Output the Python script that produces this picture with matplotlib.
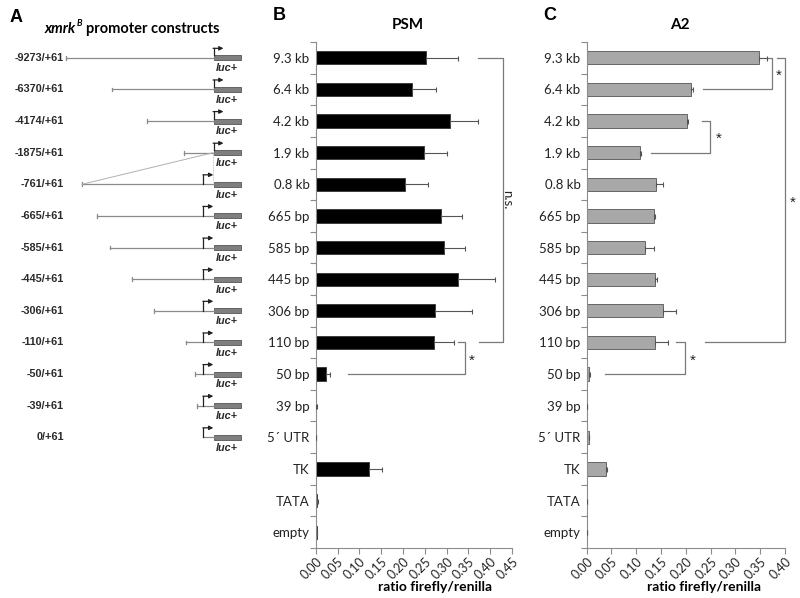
import matplotlib
matplotlib.use('Agg')
import matplotlib.pyplot as plt
import numpy as np

# ---- data -------------------------------------------------------------
construct_labels = ['-9273/+61', '-6370/+61', '-4174/+61', '-1875/+61', '-761/+61',
                    '-665/+61', '-585/+61', '-445/+61', '-306/+61', '-110/+61',
                    '-50/+61', '-39/+61', '0/+61']
construct_starts = [9273, 6370, 4174, 1875, 761, 665, 585, 445, 306, 110, 50, 39, 0]

categories = ['9.3 kb', '6.4 kb', '4.2 kb', '1.9 kb', '0.8 kb', '665 bp', '585 bp',
              '445 bp', '306 bp', '110 bp', '50 bp', '39 bp', '5\u00b4 UTR', 'TK',
              'TATA', 'empty']

psm_values = [0.253, 0.220, 0.307, 0.248, 0.204, 0.287, 0.294, 0.326, 0.274, 0.271,
              0.024, 0.001, 0.001, 0.122, 0.004, 0.002]
psm_errors = [0.074, 0.056, 0.065, 0.054, 0.053, 0.048, 0.049, 0.084, 0.085, 0.047,
              0.009, 0.001, 0.0, 0.031, 0.001, 0.0]

a2_values = [0.347, 0.211, 0.202, 0.107, 0.140, 0.136, 0.118, 0.138, 0.153, 0.138,
             0.005, 0.001, 0.004, 0.039, 0.001, 0.0]
a2_errors = [0.016, 0.003, 0.002, 0.003, 0.014, 0.002, 0.017, 0.003, 0.028, 0.027,
             0.001, 0.0, 0.001, 0.002, 0.0, 0.0]

psm_ticks = np.arange(0, 0.451, 0.05)
a2_ticks = np.arange(0, 0.401, 0.05)

# ---- style -------------------------------------------------------------
W, H = 800, 598
TOP_PX = 42; BOTTOM_PX = 548
LINE_GRAY = '#8a8a8a'
SPINE_GRAY = '#8c8c8c'
BRACKET_GRAY = '#7a7a7a'
FONT = 'Lato'
BP_PER_PX_KB = 62.7
BP_PER_PX_BP = 6.27

fig = plt.figure(figsize=(W / 100, H / 100), dpi=100)


def px_axes(left, right):
    return fig.add_axes([left / W, 1 - BOTTOM_PX / H, (right - left) / W,
                         (BOTTOM_PX - TOP_PX) / H])


n_rows = len(categories)

# ---- panel A: construct diagrams ---------------------------------------
axA = px_axes(0, 250)
axA.set_xlim(0, 250)
axA.set_ylim(n_rows - 0.5, -0.5)
axA.axis('off')

box_x0, box_x1 = 213.5, 240.7
box_h = 0.16
arrow_bp_x = 203.3

for i, (lab, start) in enumerate(zip(construct_labels, construct_starts)):
    axA.text(64, i, lab, ha='right', va='center', fontsize=7.8, fontweight='bold',
             family='Liberation Sans', color='#2a2a2a')
    axA.add_patch(plt.Rectangle((box_x0, i - box_h / 2), box_x1 - box_x0, box_h,
                                facecolor='#7f7f7f', edgecolor='#555555', lw=0.6))
    axA.text((box_x0 + box_x1) / 2, i + 0.33, 'luc+', ha='center', va='center',
             fontsize=7.8, fontweight='bold', style='italic', family='Liberation Sans',
             color='#2a2a2a')
    if start >= 1000:
        tss = box_x0
        left = tss - start / BP_PER_PX_KB
        y0 = i - box_h / 2
    else:
        tss = arrow_bp_x
        left = tss - start / BP_PER_PX_BP
        y0 = i
    # promoter line
    axA.plot([left, box_x0], [i, i], color=LINE_GRAY, lw=0.9)
    if start > 0:
        axA.plot([left, left], [i - 0.06, i + 0.06], color=LINE_GRAY, lw=0.9)
    # transcription start arrow
    ytop = i - 0.3
    axA.plot([tss, tss], [y0, ytop], color='#222222', lw=0.9)
    axA.annotate('', xy=(tss + 10, ytop), xytext=(tss - 0.4, ytop),
                 arrowprops=dict(arrowstyle='-|>', color='#222222', lw=0.9,
                                 mutation_scale=6, shrinkA=0, shrinkB=0))

# deletion link between -1875 and -761
i1875 = construct_starts.index(1875)
i761 = construct_starts.index(761)
axA.plot([arrow_bp_x - 761 / BP_PER_PX_BP, box_x0 - 0.5], [i761, i1875],
         color='#b0b0b0', lw=0.7)
axA.plot([box_x0 - 0.5, box_x0 - 0.5], [i1875, i761 - box_h / 2], color='#b0b0b0',
         lw=0.6, ls=(0, (1, 1)))

fig.text(16 / W, 1 - 17 / H, 'A', fontsize=13, fontweight='bold',
         family='Liberation Sans', ha='center', va='center')
t1 = fig.text(45 / W, 1 - 29 / H, 'xmrk', fontsize=10.5, fontweight='bold',
              style='italic', family=FONT, ha='left', va='center')
tB = axA.annotate('B', xy=(1, 0.55), xycoords=t1, xytext=(0.4, 0),
                  textcoords='offset points', fontsize=6.5, fontweight='bold',
                  style='italic', family=FONT, ha='left', va='bottom')
axA.annotate('promoter constructs', xy=(1, 0), xycoords=t1, xytext=(7, 0),
             textcoords='offset points', fontsize=10.5, fontweight='bold', family=FONT,
             ha='left', va='bottom')


# ---- panels B and C ----------------------------------------------------
def bar_panel(ax, values, errors, ticks, xmax, face, edge):
    y = np.arange(n_rows)
    ax.barh(y, values, height=0.42, color=face, edgecolor=edge, lw=0.6, zorder=2)
    ax.errorbar(values, y, xerr=[np.zeros(n_rows), errors], fmt='none',
                ecolor='#555555', elinewidth=0.8, capsize=1.8, capthick=0.8, zorder=3)
    ax.set_xlim(0, xmax)
    ax.set_ylim(n_rows - 0.5, -0.5)
    ax.set_yticks(y)
    ax.set_yticklabels(categories, fontsize=9.5, family=FONT, color='#222222')
    ax.set_yticks(np.arange(-0.5, n_rows, 1), minor=True)
    ax.tick_params(axis='y', which='major', length=0, pad=4.5)
    ax.tick_params(axis='y', which='minor', length=4, color=SPINE_GRAY, width=0.8)
    ax.set_xticks(ticks)
    ax.set_xticklabels(['%.2f' % t for t in ticks], rotation=45, ha='right',
                       rotation_mode='anchor', fontsize=9, family=FONT,
                       color='#222222')
    ax.tick_params(axis='x', length=4, color=SPINE_GRAY, width=0.8, pad=1)
    for s in ('top', 'right'):
        ax.spines[s].set_visible(False)
    for s in ('left', 'bottom'):
        ax.spines[s].set_color(SPINE_GRAY)
        ax.spines[s].set_linewidth(0.8)


def bracket(ax, row_a, row_b, xa, xv, xb, label, lx, rotate=False):
    ax.plot([xa, xv, xv, xb], [row_a, row_a, row_b, row_b], color=BRACKET_GRAY,
            lw=0.9, clip_on=False, zorder=1)
    ym = (row_a + row_b) / 2
    if rotate:
        ax.text(lx, ym, label, rotation=270, ha='center', va='center', fontsize=9.5,
                family=FONT, color='#222222')
    else:
        ax.text(lx, ym + 0.2, label, ha='center', va='baseline', fontsize=11,
                family='Liberation Sans', color='#222222')


axB = px_axes(315.7, 512)
bar_panel(axB, psm_values, psm_errors, psm_ticks, 0.45, 'black', '#333333')
bracket(axB, 0, 9, 0.371, 0.429, 0.375, 'n.s.', 0.438, rotate=True)
bracket(axB, 9, 10, 0.327, 0.342, 0.075, '*', 0.358)

axC = px_axes(586.7, 785)
bar_panel(axC, a2_values, a2_errors, a2_ticks, 0.40, '#a8a8a8', '#555555')
bracket(axC, 0, 1, 0.362, 0.373, 0.234, '*', 0.388)
bracket(axC, 2, 3, 0.233, 0.249, 0.130, '*', 0.266)
bracket(axC, 0, 9, 0.384, 0.400, 0.239, '*', 0.415)
bracket(axC, 9, 10, 0.181, 0.199, 0.037, '*', 0.214)

fig.text(279 / W, 1 - 16 / H, 'B', fontsize=13, fontweight='bold',
         family='Liberation Sans', ha='center', va='center')
fig.text(550 / W, 1 - 16 / H, 'C', fontsize=13, fontweight='bold',
         family='Liberation Sans', ha='center', va='center')
fig.text(408 / W, 1 - 25 / H, 'PSM', fontsize=11, fontweight='bold', family=FONT,
         ha='center', va='center')
fig.text(680 / W, 1 - 25 / H, 'A2', fontsize=11, fontweight='bold', family=FONT,
         ha='center', va='center')
fig.text(435 / W, 1 - 587 / H, 'ratio firefly/renilla', fontsize=10, fontweight='bold',
         family=FONT, ha='center', va='center')
fig.text(704 / W, 1 - 587 / H, 'ratio firefly/renilla', fontsize=10, fontweight='bold',
         family=FONT, ha='center', va='center')

fig.savefig('out.png', dpi=100)
